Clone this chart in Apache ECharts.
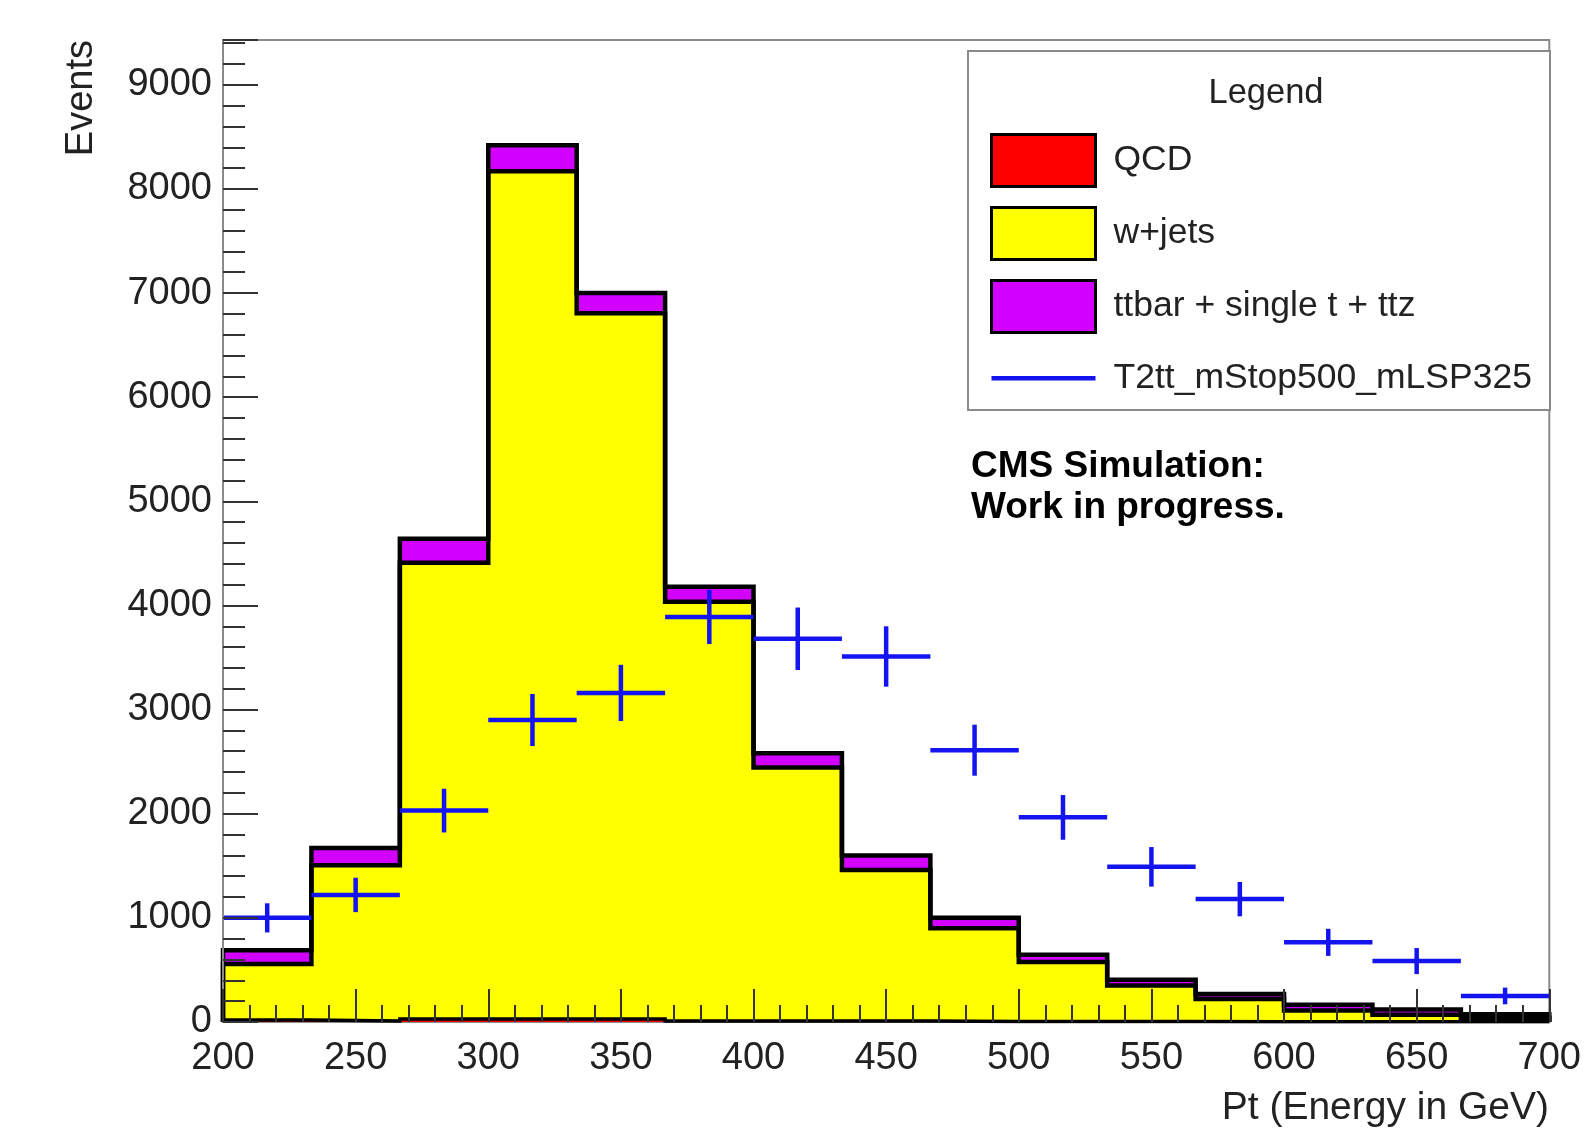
<!DOCTYPE html>
<html>
<head>
<meta charset="utf-8">
<script src="https://cdn.jsdelivr.net/npm/echarts@6/dist/echarts.min.js"></script>
<style>
  html, body { margin: 0; padding: 0; background: #fff; }
  #chart { width: 1584px; height: 1133px; }
</style>
</head>
<body>
<div id="chart"></div>
<script>
// ---- data ----
const binEdges = [200, 233.33, 266.67, 300, 333.33, 366.67, 400, 433.33, 466.67, 500, 533.33, 566.67, 600, 633.33, 666.67, 700];
const qcd    = [20, 10, 30, 30, 30, 10, 10, 10, 5, 5, 5, 3, 2, 2, 2];
const wjets  = [536, 1495, 4380, 8140, 6775, 4025, 2435, 1450, 895, 570, 345, 217, 108, 68, 38];
const ttbar  = [134, 165, 230, 250, 195, 145, 135, 140, 100, 70, 55, 50, 55, 50, 35];
const t2tt    = [1000, 1220, 2030, 2900, 3160, 3890, 3680, 3510, 2610, 1965, 1490, 1180, 765, 585, 250];
const t2ttErr = [140, 165, 210, 250, 270, 260, 300, 290, 245, 215, 190, 165, 130, 125, 80];
const seriesNames = ['QCD', 'w+jets', 'ttbar + single t + ttz', 'T2tt_mStop500_mLSP325'];
const yMajorStep = 1000, yMinorStep = 200, xMajorStep = 50, xMinorStep = 10;

// ---- build stacked step outlines ----
const cumQcd = qcd.slice();
const cumW = wjets.map((v, i) => v + cumQcd[i]);
const cumT = ttbar.map((v, i) => v + cumW[i]);
function stepData(vals) {
  const pts = [[binEdges[0], 0]];
  vals.forEach((v, i) => pts.push([binEdges[i], v]));
  pts.push([binEdges[binEdges.length - 1], vals[vals.length - 1]]);
  pts.push([binEdges[binEdges.length - 1], 0]);
  return pts;
}
const FONT = "'Liberation Sans', Arial, Helvetica, sans-serif";
const fills = { qcd: '#ff0000', w: '#ffff00', t: '#d200ff', sig: '#1414f0' };

function histSeries(name, vals, color, width) {
  return {
    name: name, type: 'line', step: 'end', symbol: 'none', silent: true,
    xAxisIndex: 0, yAxisIndex: 0,
    data: stepData(vals),
    lineStyle: { color: '#000', width: width, join: 'miter' },
    itemStyle: { color: color },
    areaStyle: { color: color, opacity: 1 },
    animation: false
  };
}

const sigData = t2tt.map((v, i) => [binEdges[i], binEdges[i + 1], v, t2ttErr[i]]);

const chart = echarts.init(document.getElementById('chart'), null, { renderer: 'canvas' });
const option = {
  backgroundColor: '#ffffff',
  animation: false,
  grid: { left: 223, right: 34, top: 40, bottom: 111, show: true, borderColor: '#8a8a8a', borderWidth: 2, backgroundColor: 'transparent' },
  xAxis: [
    { type: 'value', min: 200, max: 700, interval: xMinorStep, z: 10,
      axisLine: { show: false },
      axisTick: { show: true, inside: true, length: 17, lineStyle: { color: '#333', width: 2 } },
      splitLine: { show: false },
      axisLabel: { margin: 18, fontSize: 38, color: '#222', fontFamily: FONT,
        formatter: v => (Math.round(v) % xMajorStep === 0 ? String(Math.round(v)) : '') } },
    { type: 'value', min: 200, max: 700, interval: xMajorStep, position: 'bottom', z: 10,
      axisLine: { show: false },
      axisTick: { show: true, inside: true, length: 33, lineStyle: { color: '#333', width: 2 } },
      splitLine: { show: false }, axisLabel: { show: false } }
  ],
  yAxis: [
    { type: 'value', min: 0, max: 9430, interval: yMinorStep, z: 10,
      axisLine: { show: true, lineStyle: { color: '#8a8a8a', width: 2 } },
      axisTick: { show: true, inside: true, length: 22, lineStyle: { color: '#333', width: 2 } },
      splitLine: { show: false },
      axisLabel: { margin: 11, fontSize: 38, color: '#222', fontFamily: FONT,
        formatter: v => (Math.round(v) % yMajorStep === 0 ? String(Math.round(v)) : '') } },
    { type: 'value', min: 0, max: 9430, interval: yMajorStep, position: 'left', z: 10,
      axisLine: { show: false },
      axisTick: { show: true, inside: true, length: 35, lineStyle: { color: '#333', width: 2 } },
      splitLine: { show: false }, axisLabel: { show: false } }
  ],
  legend: {
    z: 20, padding: 0,
    orient: 'vertical', left: 990, top: 133, itemWidth: 104, itemHeight: 52, itemGap: 18,
    selectedMode: false,
    textStyle: { fontSize: 35.5, color: '#222', fontFamily: FONT, padding: [0, 0, 0, 13] },
    data: [
      { name: seriesNames[0], icon: 'rect', itemStyle: { color: fills.qcd, borderColor: '#000', borderWidth: 3 } },
      { name: seriesNames[1], icon: 'rect', itemStyle: { color: fills.w, borderColor: '#000', borderWidth: 3 } },
      { name: seriesNames[2], icon: 'rect', itemStyle: { color: fills.t, borderColor: '#000', borderWidth: 3 } },
      { name: seriesNames[3], icon: 'path://M0,0h0.01v0.01h-0.01z M0,24h104v4.5h-104z M0,52h0.01v0.01h-0.01z',
        itemStyle: { color: fills.sig, borderWidth: 0 } }
    ]
  },
  graphic: [
    { type: 'rect', left: 967, top: 50, z: 3, silent: true,
      shape: { width: 582, height: 359 }, style: { fill: '#fff', stroke: '#8a8a8a', lineWidth: 2 } },
    { type: 'text', x: 1266, y: 93, z: 21, silent: true,
      style: { text: 'Legend', font: '34.5px ' + FONT, fill: '#222', align: 'center', verticalAlign: 'middle' } },
    { type: 'text', x: 971, y: 446, z: 21, silent: true,
      style: { text: 'CMS Simulation:\nWork in progress.', font: 'bold 37px ' + FONT, lineHeight: 41, fill: '#000', align: 'left', verticalAlign: 'top' } },
    { type: 'text', x: 82, y: 40, rotation: Math.PI / 2, silent: true,
      style: { text: 'Events', font: '38px ' + FONT, fill: '#222', align: 'right', verticalAlign: 'middle' } },
    { type: 'text', x: 1549, y: 1108, silent: true,
      style: { text: 'Pt (Energy in GeV)', font: '39px ' + FONT, fill: '#222', align: 'right', verticalAlign: 'middle' } }
  ],
  series: [
    histSeries(seriesNames[2], cumT, fills.t, 4.5),
    histSeries(seriesNames[1], cumW, fills.w, 4.5),
    histSeries(seriesNames[0], cumQcd, fills.qcd, 3.5),
    {
      name: seriesNames[3], type: 'custom', xAxisIndex: 0, yAxisIndex: 0, silent: true, z: 4,
      itemStyle: { color: fills.sig },
      data: sigData,
      renderItem: function (params, api) {
        const lo = api.value(0), hi = api.value(1), v = api.value(2), e = api.value(3);
        const pL = api.coord([lo, v]), pR = api.coord([hi, v]);
        const mid = (lo + hi) / 2;
        const pT = api.coord([mid, v + e]), pB = api.coord([mid, v - e]);
        const st = { stroke: fills.sig, lineWidth: 4.5 };
        return { type: 'group', children: [
          { type: 'line', shape: { x1: pL[0], y1: pL[1], x2: pR[0], y2: pR[1] }, style: st },
          { type: 'line', shape: { x1: pT[0], y1: pT[1], x2: pB[0], y2: pB[1] }, style: st }
        ] };
      }
    }
  ]
};
chart.setOption(option);
</script>
</body>
</html>
